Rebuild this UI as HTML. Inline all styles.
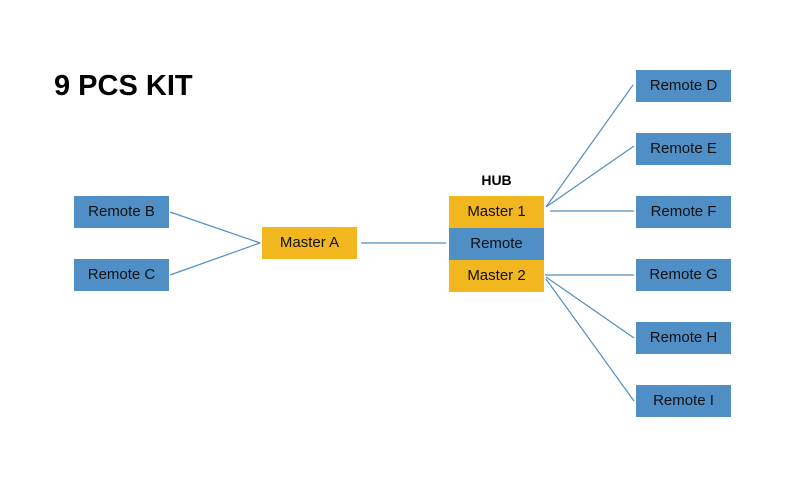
<!DOCTYPE html>
<html><head><style>
body{margin:0;width:800px;height:495px;background:#fff;position:relative;overflow:hidden;font-family:"Liberation Sans",sans-serif}
.b{position:absolute;width:95px;height:32px;line-height:32px;text-align:center;font-size:15px;color:#111}
.bl{background:#4f8fc6}.y{background:#f2b61e}
</style></head><body>
<div style="position:absolute;left:54px;top:70px;font-size:29px;font-weight:bold">9 PCS KIT</div>
<div style="position:absolute;left:449px;width:95px;top:172px;text-align:center;font-size:14px;font-weight:bold">HUB</div>
<svg width="800" height="495" style="position:absolute;left:0;top:0">
<g stroke="#4f8fc6" stroke-width="1.2" fill="none">
<line x1="170" y1="212" x2="260" y2="243"/>
<line x1="170" y1="275" x2="260" y2="243"/>
<line x1="361" y1="243" x2="446" y2="243"/>
<line x1="546" y1="207" x2="633" y2="85"/>
<line x1="546" y1="207" x2="634" y2="146"/>
<line x1="550" y1="211" x2="634" y2="211"/>
<line x1="545" y1="275" x2="634" y2="275"/>
<line x1="546" y1="277" x2="634" y2="338"/>
<line x1="546" y1="279" x2="634" y2="401"/>
</g></svg>
<div class="b bl" style="left:74px;top:196px">Remote B</div>
<div class="b bl" style="left:74px;top:259px">Remote C</div>
<div class="b y" style="left:262px;top:227px">Master A</div>
<div class="b y" style="left:449px;top:196px">Master 1</div>
<div class="b bl" style="left:449px;top:228px">Remote</div>
<div class="b y" style="left:449px;top:260px">Master 2</div>
<div class="b bl" style="left:636px;top:70px">Remote D</div>
<div class="b bl" style="left:636px;top:133px">Remote E</div>
<div class="b bl" style="left:636px;top:196px">Remote F</div>
<div class="b bl" style="left:636px;top:259px">Remote G</div>
<div class="b bl" style="left:636px;top:322px">Remote H</div>
<div class="b bl" style="left:636px;top:385px">Remote I</div>
</body></html>
